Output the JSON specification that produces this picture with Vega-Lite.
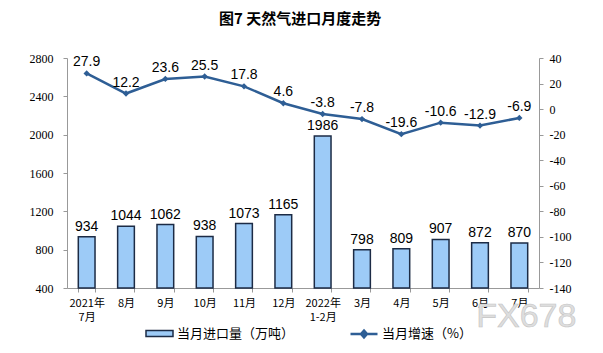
{
  "$schema": "https://vega.github.io/schema/vega-lite/v6.json",
  "width": 472,
  "height": 230,
  "autosize": {"type": "none"},
  "padding": {"left": 67, "top": 58, "right": 64, "bottom": 65},
  "background": "white",
  "title": {"text": "图7  天然气进口月度走势", "font": "Noto Sans CJK SC", "fontSize": 15, "fontWeight": "bold", "color": "#000000", "anchor": "middle", "dx": -3, "offset": 25},
  "config": {
    "view": {"stroke": null},
    "axis": {"grid": false, "titleFont": "Noto Sans CJK SC"},
    "legend": {"padding": 0, "labelFont": "Noto Sans CJK SC", "labelFontSize": 13, "labelColor": "#000000", "labelOffset": 3}
  },
  "data": {"values": [
    {"m": "2021年|7月", "v": 934, "g": 27.9},
    {"m": "8月", "v": 1044, "g": 12.2},
    {"m": "9月", "v": 1062, "g": 23.6},
    {"m": "10月", "v": 938, "g": 25.5},
    {"m": "11月", "v": 1073, "g": 17.8},
    {"m": "12月", "v": 1165, "g": 4.6},
    {"m": "2022年|1-2月", "v": 1986, "g": -3.8},
    {"m": "3月", "v": 798, "g": -7.8},
    {"m": "4月", "v": 809, "g": -19.6},
    {"m": "5月", "v": 907, "g": -10.6},
    {"m": "6月", "v": 872, "g": -12.9},
    {"m": "7月", "v": 870, "g": -6.9}
  ]},
  "encoding": {
    "x": {
      "field": "m", "type": "nominal", "sort": null,
      "scale": {"paddingInner": 0.575, "paddingOuter": 0.2875},
      "axis": {"title": null, "labelAngle": 0, "labelExpr": "datum.value ? split(datum.value, '|') : ''", "labelFont": "Noto Sans CJK SC", "labelFontSize": 11, "labelColor": "#000000", "labelLineHeight": 14, "labelPadding": 5, "domainColor": "#999999", "tickColor": "#999999", "tickBand": "extent", "tickSize": 4}
    }
  },
  "layer": [
    {
      "encoding": {
        "y": {"field": "v", "type": "quantitative", "scale": {"domain": [400, 2800], "nice": false, "zero": false},
          "axis": {"title": null, "orient": "left", "format": "d", "values": [400, 800, 1200, 1600, 2000, 2400, 2800], "labelFont": "Liberation Serif", "labelFontSize": 12, "labelColor": "#000000", "domainColor": "#999999", "tickColor": "#999999", "tickSize": 4, "labelPadding": 10}}
      },
      "layer": [
        {
          "mark": {"type": "bar", "stroke": "#1C2B45", "strokeWidth": 1.5},
          "encoding": {
            "y2": {"datum": 400},
            "fill": {"datum": "当月进口量（万吨）", "type": "nominal", "scale": {"range": ["#9DCBF7"]},
              "legend": {"title": null, "orient": "none", "legendX": 78, "legendY": 261, "symbolType": "M-1,-0.22H1V0.22H-1Z", "symbolSize": 729, "symbolStrokeColor": "#1C2B45", "symbolStrokeWidth": 1.5}}
          }
        },
        {
          "mark": {"type": "text", "baseline": "bottom", "dy": -3, "font": "Liberation Sans", "fontSize": 14, "color": "#000000"},
          "encoding": {"text": {"field": "v", "type": "nominal"}}
        }
      ]
    },
    {
      "encoding": {
        "y": {"field": "g", "type": "quantitative", "scale": {"domain": [-140, 40], "nice": false, "zero": false},
          "axis": {"title": null, "orient": "right", "format": "d", "values": [-140, -120, -100, -80, -60, -40, -20, 0, 20, 40], "labelFont": "Liberation Serif", "labelFontSize": 12, "labelColor": "#000000", "domainColor": "#999999", "tickColor": "#999999", "tickSize": 4, "labelPadding": 6, "labelExpr": "replace(datum.label, '−', '-')"}}
      },
      "layer": [
        {
          "mark": {"type": "line", "strokeWidth": 2.5},
          "encoding": {
            "stroke": {"datum": "当月增速（%）", "type": "nominal", "scale": {"range": ["#2E5E95"]},
              "legend": {"title": null, "orient": "none", "legendX": 282, "legendY": 261, "symbolType": "M-1,0H1M0,-0.25L0.22,0L0,0.25L-0.22,0Z", "symbolSize": 729, "symbolStrokeWidth": 2.5, "symbolFillColor": "#2E5E95"}}
          }
        },
        {
          "mark": {"type": "point", "shape": "diamond", "filled": true, "size": 40, "color": "#2E5E95", "opacity": 1}
        },
        {
          "mark": {"type": "text", "baseline": "bottom", "dy": -4, "font": "Liberation Sans", "fontSize": 14, "color": "#000000"},
          "encoding": {"text": {"field": "g", "type": "nominal"}}
        },
        {
          "transform": [{"filter": "datum.m == '7月'"}],
          "mark": {"type": "text", "baseline": "middle", "align": "center", "dx": 7, "font": "Liberation Sans", "fontSize": 34, "fill": "#dedede", "stroke": "#c4c4c4", "strokeWidth": 0.6},
          "encoding": {"y": {"datum": -163}, "text": {"value": "FX678"}}
        }
      ]
    }
  ],
  "resolve": {"scale": {"y": "independent"}}
}
